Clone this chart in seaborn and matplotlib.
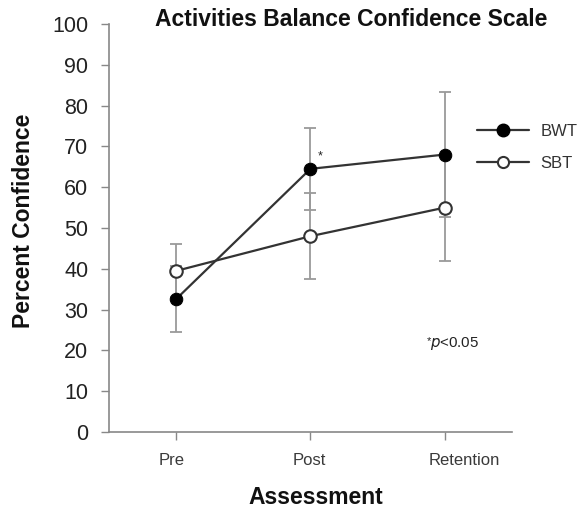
import matplotlib
matplotlib.use("Agg")
import matplotlib.pyplot as plt
import matplotlib.transforms as mtransforms
import seaborn as sns
import pandas as pd
from matplotlib.lines import Line2D

categories = ["Pre", "Post", "Retention"]
bwt_mean = [32.6, 64.5, 68.0]
bwt_err = [8.0, 10.1, 15.3]
sbt_mean = [39.5, 48.0, 55.0]
sbt_err = [6.5, 10.6, 13.0]
groups = ["BWT", "SBT"]
yticks = [0, 10, 20, 30, 40, 50, 60, 70, 80, 90, 100]

sns.set_theme(style="white")
plt.rcParams['font.family'] = ['Liberation Sans', 'DejaVu Sans']

df = pd.DataFrame({
    "Assessment": categories * 2,
    "value": bwt_mean + sbt_mean,
    "err": bwt_err + sbt_err,
    "group": [groups[0]] * 3 + [groups[1]] * 3,
})

fig = plt.figure(figsize=(5.78, 5.09), dpi=100)
ax = fig.add_axes([0.1886, 0.151, 0.697, 0.802])

# error bars
for g in groups:
    sub = df[df.group == g]
    ax.errorbar(range(len(categories)), sub["value"], yerr=sub["err"], fmt="none",
                ecolor="#9a9a9a", elinewidth=1.3, capsize=4, capthick=1.3, zorder=1)

sns.lineplot(data=df, x="Assessment", y="value", hue="group", style="group",
             markers={"BWT": "o", "SBT": "o"}, dashes=False,
             palette={"BWT": "#333333", "SBT": "#333333"},
             linewidth=1.6, markersize=9, ax=ax, legend=False, zorder=3)

data_lines = [l for l in ax.lines if len(l.get_xdata()) == 3 and l.get_marker() == "o"]
if len(data_lines) >= 2:
    data_lines[0].set_markerfacecolor("black")
    data_lines[0].set_markeredgecolor("black")
    data_lines[1].set_markerfacecolor("white")
    data_lines[1].set_markeredgecolor("#333333")
    data_lines[1].set_markeredgewidth(1.5)

ax.set_xlim(-0.5, 2.5)
ax.set_ylim(0, 100)
ax.set_yticks(yticks)
ax.set_xticks(range(len(categories)))
ax.set_xticklabels(categories)
ax.tick_params(axis="y", labelsize=15.5, labelcolor="#222222", length=6, width=1,
               color="#888888", direction="out", left=True, pad=9)
ax.tick_params(axis="x", labelsize=12, labelcolor="#3a3a3a", length=6, width=1,
               color="#888888", direction="out", bottom=True, pad=9)
for s in ["top", "right"]:
    ax.spines[s].set_visible(False)
for s in ["left", "bottom"]:
    ax.spines[s].set_color("#888888")
    ax.spines[s].set_linewidth(1.2)

# slight horizontal offsets of x tick labels as in reference
offsets_px = [-5, -1, 20]
for lab, dx in zip(ax.get_xticklabels(), offsets_px):
    lab.set_transform(lab.get_transform() +
                      mtransforms.ScaledTranslation(dx / 100, 0, fig.dpi_scale_trans))

ax.set_xlabel("")
ax.set_ylabel("")
fig.text(315.5 / 578, 1 - 497 / 509, "Assessment", fontsize=16.5, fontweight="bold",
         ha="center", va="center", color="#111111")
fig.text(24 / 578, 1 - 221 / 509, "Percent Confidence", fontsize=16.5, fontweight="bold",
         ha="center", va="center", rotation=90, color="#111111")
fig.text(351.5 / 578, 1 - 19 / 509, "Activities Balance Confidence Scale", fontsize=16.5,
         fontweight="bold", ha="center", va="center", color="#111111")

ax.text(1.07, 67.6, "*", fontsize=9, ha="center", va="center", color="#222222")
ax.text(1.865, 22.3, "*", fontsize=8, ha="left", va="center", color="#222222")
ax.text(1.89, 21.6, r"$\it{p}$<0.05", fontsize=10.8, ha="left", va="center", color="#222222")

handles = [
    Line2D([0], [0], color="#333333", lw=1.6, marker="o", markersize=9,
           markerfacecolor="black", markeredgecolor="black"),
    Line2D([0], [0], color="#333333", lw=1.6, marker="o", markersize=8,
           markerfacecolor="white", markeredgecolor="#333333", markeredgewidth=1.5),
]
fig.legend(handles, groups, loc="center left", bbox_to_anchor=(0.8, 0.71),
           frameon=False, fontsize=12, handlelength=3.1, handletextpad=0.7,
           labelspacing=1.0, labelcolor="#333333")

fig.savefig("out.png", dpi=100)
